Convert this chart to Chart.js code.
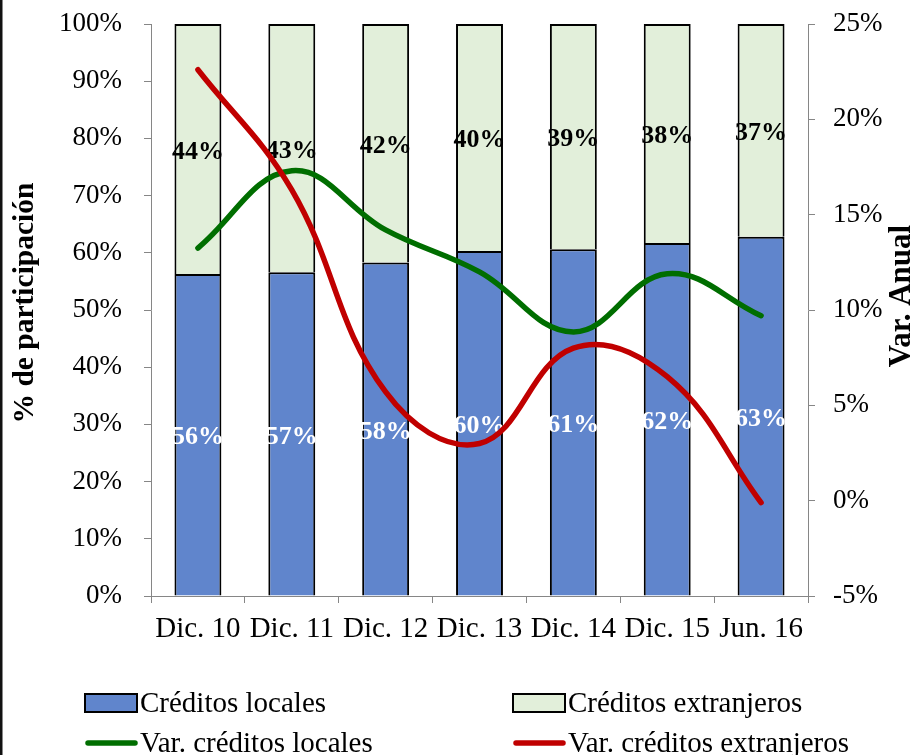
<!DOCTYPE html>
<html>
<head>
<meta charset="utf-8">
<style>
  html, body { margin: 0; padding: 0; background: #fff; overflow: hidden; }
  #wrap { width: 915px; height: 755px; position: relative; }
</style>
<script src="https://cdn.jsdelivr.net/npm/chart.js@4.4.1/dist/chart.umd.min.js"></script>
</head>
<body>
<div id="wrap"><canvas id="chart" width="915" height="755"></canvas></div>
<script>
// Periods on the horizontal axis
const categories = ['Dic. 10', 'Dic. 11', 'Dic. 12', 'Dic. 13', 'Dic. 14', 'Dic. 15', 'Jun. 16'];

// Share of total credit (%), left axis
const localShare   = [56.3, 56.6, 58.3, 60.3, 60.6, 61.7, 62.8];
const foreignShare = [43.7, 43.4, 41.7, 39.7, 39.4, 38.3, 37.2];

// Annual growth (%), right axis
const localGrowth   = [13.25, 17.3, 14.2, 12.0, 8.85, 11.9, 9.7];
const foreignGrowth = [22.6, 16.3, 5.7, 3.0, 8.0, 6.5, -0.1];

// Axis ranges and steps
const shareAxis  = { min: 0, max: 100, step: 10 };
const growthAxis = { min: -5, max: 25, step: 5 };

const SERIF = "'Liberation Serif', 'Times New Roman', serif";
const AXIS_GREY = '#868686';
const pct = v => v + '%';

// Percentage labels centred inside each stacked segment
const segmentLabels = {
  id: 'segmentLabels',
  afterDatasetDraw(chart, args) {
    const ds = chart.data.datasets[args.index];
    if (ds.type === 'line') return;
    const ctx = chart.ctx;
    ctx.save();
    ctx.font = 'bold 26px ' + SERIF;
    ctx.fillStyle = ds.labelColor;
    ctx.textAlign = 'center';
    ctx.textBaseline = 'middle';
    args.meta.data.forEach((bar, i) => {
      const p = bar.getProps(['x', 'y', 'base'], true);
      ctx.fillText(Math.round(ds.data[i]) + '%', p.x, (p.y + p.base) / 2 + 3);
    });
    ctx.restore();
  }
};

// Axis titles, both reading bottom to top
const axisTitles = {
  id: 'axisTitles',
  afterDraw(chart) {
    const ctx = chart.ctx;
    ctx.save();
    ctx.fillStyle = '#000';
    ctx.textAlign = 'center';
    ctx.textBaseline = 'alphabetic';
    const put = (text, size, x, y) => {
      ctx.save();
      ctx.font = 'bold ' + size + 'px ' + SERIF;
      ctx.translate(x, y);
      ctx.rotate(-Math.PI / 2);
      ctx.fillText(text, 0, 0);
      ctx.restore();
    };
    put('% de participación', 29.5, 33, 303);
    put('Var. Anual', 31, 910, 296);
    ctx.restore();
  }
};

// Two-column legend below the plot
const gridLegend = {
  id: 'gridLegend',
  afterDraw(chart) {
    const ctx = chart.ctx;
    const byLabel = l => chart.data.datasets.find(d => d.label === l);
    const rows = [
      ['Créditos locales', 'Créditos extranjeros'],
      ['Var. créditos locales', 'Var. créditos extranjeros']
    ];
    const colX = [85, 513];
    const rowY = [703, 743];
    ctx.save();
    ctx.font = '29px ' + SERIF;
    ctx.textBaseline = 'middle';
    ctx.textAlign = 'left';
    rows.forEach((row, r) => {
      row.forEach((label, c) => {
        const ds = byLabel(label);
        const x = colX[c], y = rowY[r];
        if (ds.type === 'line') {
          ctx.strokeStyle = ds.borderColor;
          ctx.lineWidth = 5.5;
          ctx.lineCap = 'round';
          ctx.beginPath();
          ctx.moveTo(x + 3, y);
          ctx.lineTo(x + 50, y);
          ctx.stroke();
        } else {
          ctx.fillStyle = ds.backgroundColor;
          ctx.fillRect(x, y - 9, 52, 18);
          ctx.strokeStyle = '#000';
          ctx.lineWidth = 2;
          ctx.strokeRect(x, y - 9, 52, 18);
        }
        ctx.fillStyle = '#000';
        ctx.fillText(label, x + 55, y + 1);
      });
    });
    // left edge of the surrounding frame
    ctx.fillStyle = '#111';
    ctx.fillRect(0, 0, 2.5, chart.height);
    ctx.restore();
  }
};

const tickFont = size => ({ family: SERIF, size: size });

// fixed box sizes keep the plot area at the same place whatever the label widths
const fixWidth = w => s => { s.width = w; s.paddingTop = 0; s.paddingBottom = 0; };

new Chart(document.getElementById('chart'), {
  type: 'bar',
  data: {
    labels: categories,
    datasets: [
      {
        type: 'line', label: 'Var. créditos extranjeros', data: foreignGrowth, yAxisID: 'y1',
        borderColor: '#C00000', backgroundColor: '#C00000', borderWidth: 5.5, borderCapStyle: 'round',
        pointRadius: 0, tension: 0.4, fill: false, order: 0
      },
      {
        type: 'line', label: 'Var. créditos locales', data: localGrowth, yAxisID: 'y1',
        borderColor: '#006E00', backgroundColor: '#006E00', borderWidth: 5.5, borderCapStyle: 'round',
        pointRadius: 0, tension: 0.4, fill: false, order: 1
      },
      {
        label: 'Créditos locales', data: localShare, yAxisID: 'y',
        backgroundColor: '#6085CC', borderColor: '#000', borderWidth: 2,
        barPercentage: 0.5, categoryPercentage: 1, order: 2, labelColor: '#fff'
      },
      {
        label: 'Créditos extranjeros', data: foreignShare, yAxisID: 'y',
        backgroundColor: '#E2EFDA', borderColor: '#000', borderWidth: 2,
        barPercentage: 0.5, categoryPercentage: 1, order: 3, labelColor: '#000'
      }
    ]
  },
  options: {
    responsive: false,
    animation: false,
    devicePixelRatio: 1,
    layout: { padding: { top: 24, left: 0, right: 0, bottom: 0 } },
    plugins: { legend: { display: false }, tooltip: { enabled: false } },
    scales: {
      x: {
        stacked: true,
        offset: true,
        grid: { offset: true, drawOnChartArea: false, drawTicks: true, tickLength: 7, color: AXIS_GREY, lineWidth: 1 },
        border: { display: true, color: AXIS_GREY, width: 1 },
        ticks: { font: tickFont(29), color: '#000', padding: 9, maxRotation: 0, autoSkip: false },
        afterFit(s) { s.height = 159; }
      },
      y: {
        stacked: true,
        position: 'left',
        min: shareAxis.min, max: shareAxis.max,
        grid: { drawOnChartArea: false, drawTicks: true, tickLength: 7, color: AXIS_GREY, lineWidth: 1 },
        border: { display: true, color: AXIS_GREY, width: 1 },
        ticks: { stepSize: shareAxis.step, callback: pct, font: tickFont(27), color: '#000', padding: 22 },
        afterFit: fixWidth(151)
      },
      y1: {
        position: 'right',
        min: growthAxis.min, max: growthAxis.max,
        grid: { drawOnChartArea: false, drawTicks: true, tickLength: 7, color: AXIS_GREY, lineWidth: 1 },
        border: { display: true, color: AXIS_GREY, width: 1 },
        ticks: { stepSize: growthAxis.step, callback: pct, font: tickFont(27), color: '#000', padding: 18 },
        afterFit: fixWidth(107)
      }
    }
  },
  plugins: [segmentLabels, axisTitles, gridLegend]
});
</script>
</body>
</html>
